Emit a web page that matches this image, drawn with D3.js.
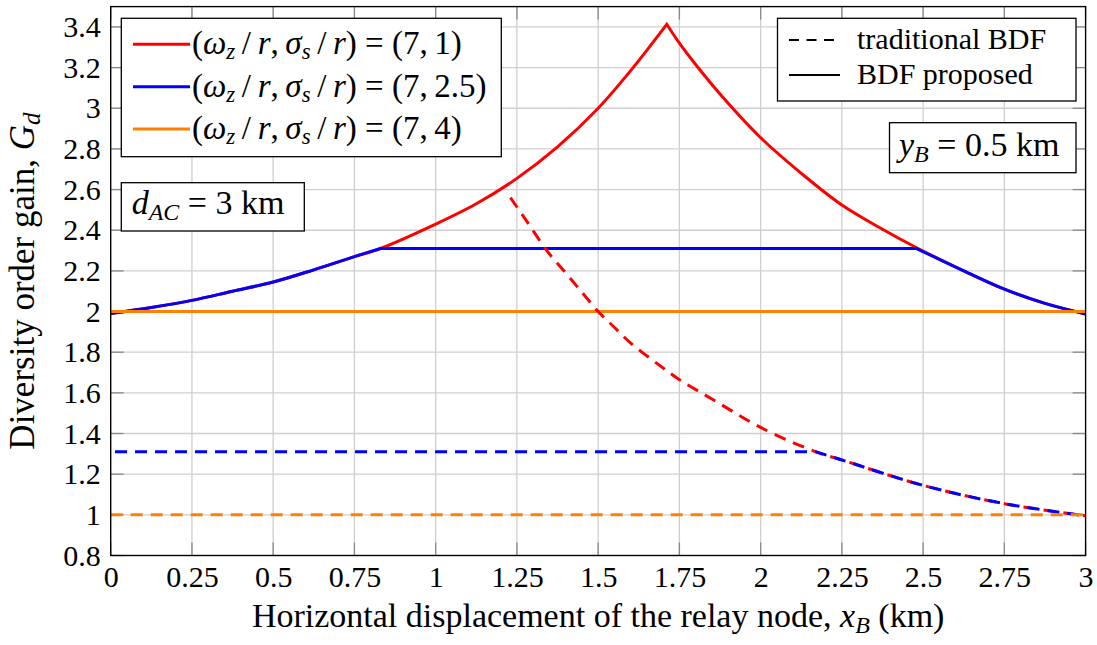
<!DOCTYPE html>
<html>
<head>
<meta charset="utf-8">
<script src="https://cdn.jsdelivr.net/npm/d3@7"></script>
<style>
  body { margin: 0; background: #fff; }
  svg text { font-family: "Liberation Serif", "DejaVu Serif", serif; fill: #000; }
</style>
</head>
<body>
<div id="chart"></div>
<script>
// x positions (km) and diversity order gain
const xTicks = [0, 0.25, 0.5, 0.75, 1, 1.25, 1.5, 1.75, 2, 2.25, 2.5, 2.75, 3]
const yTicks = [0.8, 1, 1.2, 1.4, 1.6, 1.8, 2, 2.2, 2.4, 2.6, 2.8, 3, 3.2, 3.4]

// BDF proposed (solid)
const xRed = [0, 0.125, 0.25, 0.375, 0.5, 0.625, 0.75, 0.83, 1.0, 1.125, 1.25, 1.375, 1.5, 1.6, 1.711, 1.75, 1.8, 1.875, 2.0, 2.125, 2.25, 2.375, 2.48, 2.625, 2.75, 2.875, 3.0]
const gRed = [1.99, 2.02, 2.055, 2.10, 2.145, 2.205, 2.27, 2.31, 2.43, 2.53, 2.655, 2.81, 3.0, 3.185, 3.413, 3.32, 3.215, 3.07, 2.855, 2.68, 2.524, 2.405, 2.314, 2.2, 2.11, 2.04, 1.988]
const xBlue = [0, 0.125, 0.25, 0.375, 0.5, 0.625, 0.75, 0.83, 2.48, 2.625, 2.75, 2.875, 3.0]
const gBlue = [1.99, 2.02, 2.055, 2.10, 2.145, 2.205, 2.27, 2.31, 2.31, 2.2, 2.11, 2.04, 1.988]
const xOrange = [0, 3]
const gOrange = [2.0, 2.0]

// traditional BDF (dashed)
const xRedT = [1.23, 1.28, 1.342, 1.4, 1.45, 1.5, 1.545, 1.6, 1.685, 1.75, 1.85, 2.0, 2.17, 2.25, 2.5, 2.75, 3.0]
const gRedT = [2.56, 2.445, 2.30, 2.19, 2.095, 2.0, 1.93, 1.845, 1.74, 1.665, 1.57, 1.43, 1.31, 1.27, 1.145, 1.055, 0.995]
const xBlueT = [0, 2.17, 2.25, 2.5, 2.75, 3.0]
const gBlueT = [1.31, 1.31, 1.27, 1.145, 1.055, 0.995]
const xOrangeT = [0, 3]
const gOrangeT = [1.0, 1.0]

// x where a curve has a corner (peak or saturation)
const kinksRed = [1.711]
const kinksBlue = [0.83, 2.48]
const kinksBlueT = [2.17]

const seriesNames = ['(7, 1)', '(7, 2.5)', '(7, 4)']
const colors = ['#ff0000', '#0000ff', '#ff8000']

const width = 1097
const height = 645
const mLeft = 110.7, mRight = 1085.6, mTop = 6.6, mBottom = 555.5

const svg = d3.select('#chart').append('svg')
  .attr('width', width)
  .attr('height', height)

const x = d3.scaleLinear().domain([0, 3]).range([mLeft, mRight])
const y = d3.scaleLinear().domain([0.8, 3.5]).range([mBottom, mTop])

// grid
const grid = svg.append('g').attr('stroke', '#cfcfcf').attr('stroke-width', 1.3)
grid.selectAll('.gx').data(xTicks.slice(1, -1)).join('line')
  .attr('x1', d => x(d)).attr('x2', d => x(d))
  .attr('y1', mTop).attr('y2', mBottom)
grid.selectAll('.gy').data(yTicks.slice(1)).join('line')
  .attr('x1', mLeft).attr('x2', mRight)
  .attr('y1', d => y(d)).attr('y2', d => y(d))

// small inner ticks on all four sides
const tl = 13
const ticks = svg.append('g').attr('stroke', '#8a8a8a').attr('stroke-width', 1.3)
xTicks.forEach(d => {
  ticks.append('line').attr('x1', x(d)).attr('x2', x(d)).attr('y1', mBottom).attr('y2', mBottom - tl)
  ticks.append('line').attr('x1', x(d)).attr('x2', x(d)).attr('y1', mTop).attr('y2', mTop + tl)
})
yTicks.forEach(d => {
  ticks.append('line').attr('x1', mLeft).attr('x2', mLeft + tl).attr('y1', y(d)).attr('y2', y(d))
  ticks.append('line').attr('x1', mRight).attr('x2', mRight - tl).attr('y1', y(d)).attr('y2', y(d))
})

// axes labels through d3 axes
const fmt = d => String(+d.toFixed(2))
svg.append('g')
  .attr('transform', `translate(0,${mBottom})`)
  .call(d3.axisBottom(x).tickValues(xTicks).tickFormat(fmt).tickSize(0).tickPadding(10))
svg.append('g')
  .attr('transform', `translate(${mLeft},0)`)
  .call(d3.axisLeft(y).tickValues(yTicks).tickFormat(fmt).tickSize(0).tickPadding(10))
svg.selectAll('.domain').remove()
svg.selectAll('.tick text')
  .style('font-family', '"Liberation Serif", serif')
  .style('font-size', '30px')
  .attr('fill', '#000')

// curves: smooth between corners, corners kept sharp, one path per curve
const line = d3.line().x(d => x(d[0])).y(d => y(d[1])).curve(d3.curveCatmullRom.alpha(0.5))
function curvePath (xs, gs, kinks) {
  const pts = xs.map((v, i) => [v, gs[i]])
  const segs = []
  let cur = []
  pts.forEach(p => {
    cur.push(p)
    if (kinks.includes(p[0])) { segs.push(cur); cur = [p] }
  })
  if (cur.length > 1) segs.push(cur)
  return segs.map((s, i) => {
    const d = line(s)
    return i === 0 ? d : 'L' + d.slice(1)
  }).join('')
}
const plot = svg.append('g').attr('fill', 'none').attr('stroke-width', 3)
const curves = [
  [xRed, gRed, kinksRed, colors[0], null],
  [xBlue, gBlue, kinksBlue, colors[1], null],
  [xOrange, gOrange, [], colors[2], null],
  [xRedT, gRedT, [], colors[0], '12 8'],
  [xBlueT, gBlueT, kinksBlueT, colors[1], '12 8'],
  [xOrangeT, gOrangeT, [], colors[2], '12 8']
]
const paths = curves.map(c =>
  plot.append('path').attr('d', curvePath(c[0], c[1], c[2]))
    .attr('stroke', c[3]).attr('stroke-dasharray', c[4]))

// shift the blue dashes a little against the red ones where they share a curve
function lengthAt (node, px) {
  let lo = 0, hi = node.getTotalLength()
  for (let k = 0; k < 40; k++) {
    const mid = (lo + hi) / 2
    if (node.getPointAtLength(mid).x < px) lo = mid; else hi = mid
  }
  return lo
}
const joinX = x(kinksBlueT[0])
const lr = lengthAt(paths[3].node(), joinX)
const lb = lengthAt(paths[4].node(), joinX)
paths[4].attr('stroke-dashoffset', ((lr - lb - 4) % 20 + 20) % 20)

// axis box
svg.append('rect')
  .attr('x', mLeft).attr('y', mTop)
  .attr('width', mRight - mLeft).attr('height', mBottom - mTop)
  .attr('fill', 'none').attr('stroke', '#000').attr('stroke-width', 1.4)

// axis titles
const xt = svg.append('text')
  .attr('x', (mLeft + mRight) / 2).attr('y', 627)
  .attr('text-anchor', 'middle')
  .style('font-size', '34px')
xt.append('tspan').text('Horizontal displacement of the relay node, ')
xt.append('tspan').attr('font-style', 'italic').text('x')
xt.append('tspan').attr('font-style', 'italic').attr('font-size', '24px').attr('dy', 6).text('B')
xt.append('tspan').attr('dy', -6).text(' (km)')

const yt = svg.append('text')
  .attr('transform', `translate(34,${(mTop + mBottom) / 2}) rotate(-90)`)
  .attr('text-anchor', 'middle')
  .style('font-size', '35px')
yt.append('tspan').text('Diversity order gain, ')
yt.append('tspan').attr('font-style', 'italic').text('G')
yt.append('tspan').attr('font-style', 'italic').attr('font-size', '25px').attr('dy', 6).text('d')

// legend: parameter sets
const lg = svg.append('g')
lg.append('rect').attr('x', 121.3).attr('y', 18.3).attr('width', 380).attr('height', 138.4)
  .attr('fill', '#fff').attr('stroke', '#000').attr('stroke-width', 1.3)
seriesNames.forEach((name, i) => {
  const cy = 44.3 + i * 42.4
  lg.append('line').attr('x1', 133).attr('x2', 190).attr('y1', cy).attr('y2', cy)
    .attr('stroke', colors[i]).attr('stroke-width', 3)
  const t = lg.append('text').attr('x', 192).attr('y', cy + 10).style('font-size', '33px')
  t.append('tspan').text('(')
  t.append('tspan').attr('font-style', 'italic').text('ω')
  t.append('tspan').attr('font-style', 'italic').attr('font-size', '23px').attr('dy', 5).text('z')
  t.append('tspan').attr('dy', -5).text('\u2009/\u2009')
  t.append('tspan').attr('font-style', 'italic').text('r')
  t.append('tspan').text(',\u2009')
  t.append('tspan').attr('font-style', 'italic').text('σ')
  t.append('tspan').attr('font-style', 'italic').attr('font-size', '23px').attr('dy', 5).text('s')
  t.append('tspan').attr('dy', -5).text('\u2009/\u2009')
  t.append('tspan').attr('font-style', 'italic').text('r')
  t.append('tspan').text(') = ' + name.replace(', ', ',\u2009'))
})

// legend: line styles
const ls = svg.append('g')
ls.append('rect').attr('x', 777.5).attr('y', 18.3).attr('width', 298.5).attr('height', 82.7)
  .attr('fill', '#fff').attr('stroke', '#000').attr('stroke-width', 1.3)
const styles = [['traditional BDF', '10 7.5'], ['BDF proposed', null]]
styles.forEach((s, i) => {
  const cy = 40 + i * 35
  ls.append('line').attr('x1', 789).attr('x2', 840).attr('y1', cy).attr('y2', cy)
    .attr('stroke', '#000').attr('stroke-width', 2.2)
    .attr('stroke-dasharray', s[1])
  ls.append('text').attr('x', 857).attr('y', cy + 8.5).style('font-size', '30px').text(s[0])
})

// annotation boxes
function note (bx, by, bw, bh, tx, ty, parts) {
  const g = svg.append('g')
  g.append('rect').attr('x', bx).attr('y', by).attr('width', bw).attr('height', bh)
    .attr('fill', '#fff').attr('stroke', '#000').attr('stroke-width', 1.3)
  const t = g.append('text').attr('x', tx).attr('y', ty).style('font-size', '34px')
  parts.forEach(p => {
    const ts = t.append('tspan').text(p.t)
    if (p.i) ts.attr('font-style', 'italic')
    if (p.sub) ts.attr('font-size', '24px').attr('dy', 6)
    if (p.up) ts.attr('dy', -6)
  })
}
note(121.3, 182.7, 183, 48.3, 131.7, 214, [
  { t: 'd', i: true }, { t: 'AC', i: true, sub: true }, { t: ' = 3 km', up: true }
])
note(889.5, 122.7, 186.5, 50, 899, 156, [
  { t: 'y', i: true }, { t: 'B', i: true, sub: true }, { t: ' = 0.5 km', up: true }
])
</script>
</body>
</html>
